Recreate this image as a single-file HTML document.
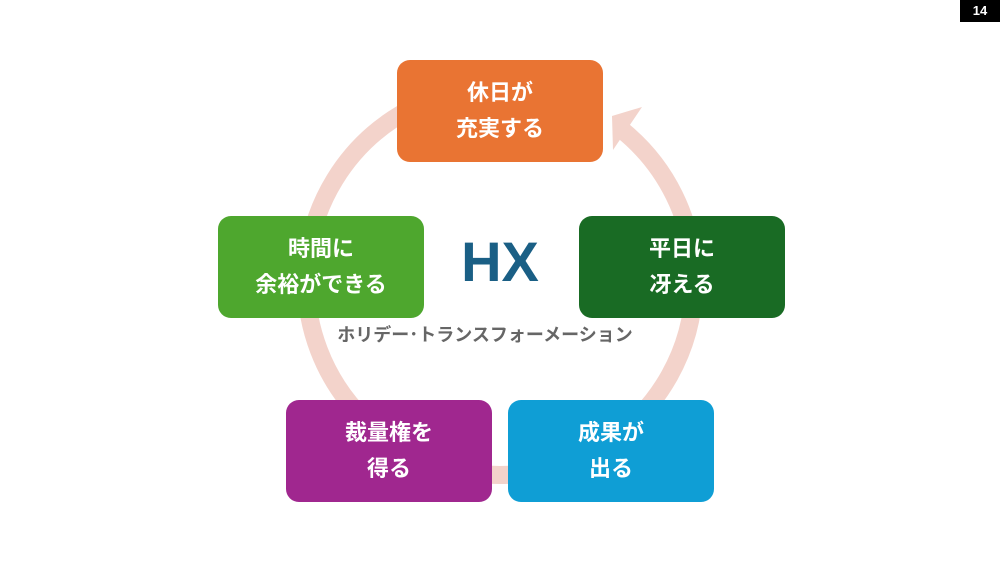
<!DOCTYPE html>
<html><head><meta charset="utf-8"><style>
body{margin:0;width:1000px;height:563px;background:#fff;position:relative;overflow:hidden;font-family:"Liberation Sans","Noto Sans CJK JP",sans-serif}
.b{position:absolute;width:206px;height:102px;border-radius:13px;color:#fff;font-weight:bold;font-size:22px;line-height:36px;display:flex;align-items:center;justify-content:center;text-align:center}
</style></head><body>
<svg width="1000" height="563" style="position:absolute;left:0;top:0">
<path d="M 622 130 A 194 194 0 1 1 480 88" fill="none" stroke="#f3d3cb" stroke-width="18"/>
<polygon points="612,116 642,107 613,150" fill="#f3d3cb"/>
</svg>
<div style="position:absolute;left:960px;top:0;width:40px;height:22px;background:#000;color:#fff;font-weight:bold;font-size:13px;line-height:22px;text-align:center">14</div>
<div class="b" style="left:397px;top:60px;background:#e97433">休日が<br>充実する</div>
<div class="b" style="left:218px;top:216px;background:#4ea72e">時間に<br>余裕ができる</div>
<div class="b" style="left:579px;top:216px;background:#196b24">平日に<br>冴える</div>
<div class="b" style="left:286px;top:400px;background:#a0278f">裁量権を<br>得る</div>
<div class="b" style="left:508px;top:400px;background:#0f9ed5">成果が<br>出る</div>
<div style="position:absolute;left:440px;top:230px;width:120px;text-align:center;font-size:56px;font-weight:bold;color:#1a5f85;line-height:64px">HX</div>
<div style="position:absolute;left:330px;top:322px;width:310px;text-align:center;font-size:18px;font-weight:bold;color:#666;line-height:26px">ホリデー･トランスフォーメーション</div>
</body></html>
